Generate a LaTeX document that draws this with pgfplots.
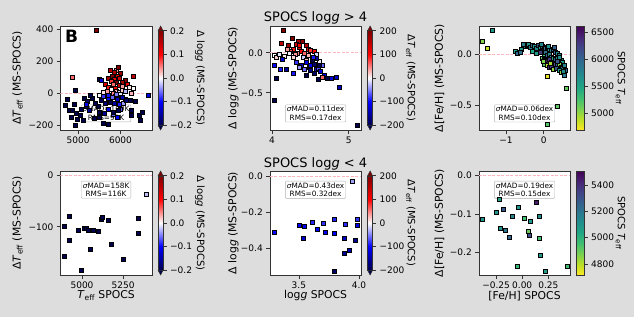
\documentclass[border=0pt]{standalone}
\usepackage{fontspec}
\setmainfont{DejaVu Sans}
\usepackage{pgfplots}
\pgfplotsset{compat=1.18}
\usepackage{pgfplotstable}

\definecolor{figbg}{RGB}{221,221,221}
\definecolor{zeroline}{RGB}{255,180,190}
\definecolor{cbtop}{rgb}{0.5,0,0}
\definecolor{cbbot}{rgb}{0,0,0.3}

\tikzset{statbox/.style={draw=black!30, fill=white, fill opacity=0.75, text opacity=1, align=center, inner sep=1.5pt, rounded corners=1pt, font=\fontsize{7.3}{8.6}\selectfont}}

\pgfplotsset{
  colormap={viridisr}{rgb255=(253,231,37) rgb255=(189,223,38) rgb255=(122,209,81) rgb255=(68,191,112) rgb255=(34,168,132) rgb255=(33,145,140) rgb255=(42,120,142) rgb255=(53,95,141) rgb255=(65,68,135) rgb255=(72,36,117) rgb255=(68,1,84)},
  colormap={seismic}{rgb=(0,0,0.3) rgb=(0,0,1) rgb=(1,1,1) rgb=(1,0,0) rgb=(0.5,0,0)},
  panel/.style={
    scale only axis, width=91.5pt, height=104pt, anchor=south west,
    axis background/.style={fill=white},
    tick align=outside, tick pos=left, major tick length=3.5pt,
    axis line style={black!80, line width=0.6pt},
    tick style={black!80, line width=0.6pt},
    tick label style={font=\fontsize{9}{10}\selectfont},
    label style={font=\fontsize{10.8}{12}\selectfont},
    title style={font=\fontsize{13}{14}\selectfont, at={(axis description cs:0.5,1)}, anchor=base, yshift=-2pt, inner sep=0pt},
    xlabel style={at={(axis description cs:0.5,-0.2)}, anchor=center},
  },
  scat/.style={scatter, only marks, mark=square*, mark size=2.0pt, scatter src=explicit,
     scatter/use mapped color={draw=black, fill=mapped color, line width=0.4pt}},
  zl/.style={zeroline, dash pattern=on 3pt off 1.5pt, line width=0.7pt, forget plot},
  cbbase/.style={
    colorbar style={at={(parent axis.east)}, anchor=west, xshift=-2.24pt, scale only axis,
      axis line style={black!80, line width=0.5pt},
      ytick pos=right, yticklabel pos=right,
      tick align=outside, major tick length=3.5pt, tick style={black!80, line width=0.6pt},
      yticklabel style={font=\fontsize{9}{10}\selectfont},
      ylabel style={font=\fontsize{10}{11}\selectfont, anchor=center, rotate=180}}},
  cbseis/.style={colorbar, colormap name=seismic, cbbase,
    colorbar style={width=5pt, height=94.5pt,
      extra description/.code={
        \filldraw[fill=cbtop, draw=black!80, line width=0.5pt] (axis description cs:0,1) -- (axis description cs:0.5,1.05) -- (axis description cs:1,1) -- cycle;
        \filldraw[fill=cbbot, draw=black!80, line width=0.5pt] (axis description cs:0,0) -- (axis description cs:0.5,-0.05) -- (axis description cs:1,0) -- cycle;
      }}},
  cbvir/.style={colorbar, colormap name=viridisr, cbbase,
    colorbar style={width=7.5pt, height=104pt}},
}

% Panel 1: Teff SPOCS, dTeff, colour dlogg (logg>4)
\pgfplotstableread{
x y c
5415 395 0.2
4866 101 0.06
4937 21 -0.2
6650 -10 -0.12
6295 109 0.15
4684 -74 -0.2
4735 -39 -0.2
4778 -105 -0.2
4859 -108 -0.2
4836 -152 -0.2
4930 -199 -0.2
4953 -124 -0.2
4906 -67 -0.2
5047 -136 -0.2
5070 -99 -0.2
5148 -33 -0.2
5218 -53 -0.18
5321 -31 -0.2
5187 -80 -0.2
5258 -105 -0.16
5117 -168 -0.2
4977 -162 -0.2
5375 -155 -0.2
5749 147 0.15
5906 147 0.05
5944 162 0.2
5984 126 0.18
6101 84 0.2
5860 130 0.16
5800 110 0.2
5920 105 0.12
5700 95 0.18
5850 90 0.1
5980 95 0.14
6050 70 0.17
5780 75 0.08
5900 70 0.2
6150 60 0.1
5650 60 0.13
5820 55 0.06
5960 50 0.15
6050 45 0.04
6200 40 0.01
5720 40 0.09
5880 35 0.11
6295 32 0.0
5780 25 0.0
5900 15 0.03
5960 5 -0.02
6050 20 0.02
5680 15 0.04
5830 0 0.05
6000 -5 -0.01
6120 10 -0.03
5600 5 0.01
6250 0 0.03
5720 -10 -0.04
5870 -20 0.07
5492 90 -0.2
5555 84 -0.12
5600 -20 -0.08
5700 -30 -0.1
5800 -25 -0.06
5920 -40 -0.13
6020 -25 -0.07
6100 -40 -0.15
5750 -55 -0.2
5850 -60 -0.15
5960 -70 -0.09
5650 -65 -0.18
5550 -45 -0.2
6060 -60 -0.04
5480 -80 -0.2
5400 -60 -0.2
5274 -15 -0.2
5180 -68 -0.11
5508 -15 0.0
5703 -15 -0.09
5897 -4 -0.05
6000 -100 -0.07
5700 -100 -0.11
5620 -125 -0.16
5820 -130 -0.06
5920 -150 -0.1
5500 -150 -0.2
5592 -189 -0.2
5710 -194 -0.2
5492 -118 -0.2
5820 -118 -0.2
5937 -105 -0.2
6218 -42 -0.2
6253 -137 -0.2
6258 -105 -0.2
6452 -137 -0.2
6464 -172 -0.2
6522 -118 -0.2
6124 -42 -0.18
6030 -23 -0.15
6358 -49 -0.2
}\tabA

% Panel 2: logg SPOCS, dlogg, colour dTeff (logg>4)
\pgfplotstableread{
x y c
4.14 0.28 200
4.12 0.12 150
4.21 0.09 180
4.26 0.18 200
4.34 0.14 170
4.35 0.07 120
4.39 0.15 190
4.44 0.09 160
4.31 0.11 140
4.28 0.05 90
4.38 0.02 110
4.47 0.05 130
4.50 0.03 80
4.42 0.00 60
4.24 0.02 70
4.33 0.00 50
4.55 0.02 100
4.30 -0.02 40
4.47 -0.03 30
4.20 0.04 40
4.36 0.10 100
4.03 -0.03 0
4.05 -0.06 20
4.09 -0.02 -10
4.16 -0.04 10
4.22 -0.01 -5
4.27 -0.06 15
4.40 -0.05 -20
4.52 -0.06 5
4.58 -0.02 -15
4.45 -0.09 25
4.62 -0.10 -10
4.03 -0.15 -100
4.10 -0.21 -90
4.13 -0.08 -120
4.18 -0.21 -160
4.27 -0.25 -90
4.32 -0.12 -80
4.38 -0.15 -140
4.45 -0.12 -110
4.48 -0.18 -150
4.52 -0.10 -200
4.55 -0.14 -180
4.58 -0.20 -130
4.60 -0.19 -70
4.63 -0.23 -120
4.66 -0.15 -60
4.50 -0.22 -170
4.55 -0.26 -190
4.68 -0.28 -110
4.72 -0.32 -200
4.77 -0.32 -120
4.83 -0.30 -130
4.87 -0.43 -140
4.45 -0.28 -200
4.60 -0.33 -200
4.42 -0.20 -60
4.35 -0.18 -40
4.50 -0.15 -100
4.57 -0.07 -160
4.62 -0.15 -200
4.53 -0.05 -90
4.03 -0.59 -200
4.05 -0.32 -200
5.11 -0.91 -200
4.66 -0.30 60
}\tabB

% Panel 3: [Fe/H] SPOCS, d[Fe/H], colour Teff (logg>4)
\pgfplotstableread{
x y c
-1.356 0.235 5600
-1.631 0.131 5050
-1.497 0.063 4850
-0.759 0.033 5500
-0.714 0.014 6000
0.088 -0.206 4750
0.604 -0.329 5150
0.356 -0.503 5150
0.088 -0.686 5200
-0.50 0.08 5700
-0.45 0.09 5900
-0.40 0.10 5600
-0.35 0.07 5800
-0.30 0.09 6000
-0.25 0.08 5650
-0.20 0.06 5750
-0.15 0.09 6100
-0.10 0.07 5550
-0.05 0.08 5850
0.00 0.07 5700
0.05 0.06 5950
0.10 0.07 6200
0.15 0.05 5600
0.20 0.04 5800
0.25 0.05 5900
0.30 0.02 6050
0.35 0.01 5700
0.40 -0.01 5750
-0.30 0.03 5500
-0.20 0.01 5600
-0.10 0.02 6300
0.00 0.00 5300
0.05 0.02 5900
0.10 -0.01 6000
0.15 0.00 5750
0.20 -0.02 5650
0.25 -0.03 5500
0.30 -0.04 5950
0.35 -0.03 5700
0.40 -0.06 5850
0.45 -0.05 5800
0.50 -0.07 5600
-0.05 -0.03 5200
0.00 -0.04 5100
0.05 -0.05 6400
0.10 -0.06 6500
0.15 -0.04 6300
0.20 -0.07 6600
0.25 -0.08 5900
0.30 -0.09 6200
0.35 -0.10 5950
0.40 -0.09 5050
0.45 -0.12 5700
0.50 -0.13 5800
0.55 -0.10 5750
0.58 -0.15 5900
0.00 -0.09 5200
0.08 -0.10 4900
0.15 -0.12 6450
0.20 -0.11 6300
0.25 -0.14 5000
0.32 -0.13 6100
0.40 -0.15 5500
0.45 -0.17 5000
0.52 -0.16 5700
0.55 -0.20 5800
-0.60 0.05 5600
-0.55 0.10 5800
-0.08 0.10 5750
0.12 0.08 5650
0.28 0.07 6000
-0.02 -0.06 5050
0.18 -0.08 4950
0.36 -0.06 6100
0.42 -0.02 5650
-0.62 0.02 5900
}\tabC

% Panel 4: Teff SPOCS, dTeff, colour dlogg (logg<4)
\pgfplotstableread{
x y c
5391 -36 -0.025
4922 -80 -0.2
4892 -99 -0.2
4920 -126 -0.2
4892 -158 -0.2
4996 -185 -0.2
4978 -106 -0.2
5012 -103 -0.2
5028 -103 -0.2
5040 -106 -0.2
5066 -107 -0.2
5096 -109 -0.2
5052 -143 -0.2
5116 -85 -0.2
5122 -81 -0.2
5162 -87 -0.2
5176 -134 -0.2
5248 -164 -0.2
5344 -83 -0.2
5340 -113 -0.2
}\tabD

% Panel 5: logg SPOCS, dlogg, colour dTeff (logg<4)
\pgfplotstableread{
x y c
3.942 -0.025 -36
3.292 -0.310 -99
3.502 -0.276 -103
3.542 -0.278 -106
3.533 -0.344 -126
3.613 -0.254 -85
3.655 -0.297 -107
3.705 -0.263 -81
3.717 -0.315 -109
3.797 -0.237 -87
3.797 -0.319 -103
3.797 -0.530 -185
3.886 -0.269 -83
3.878 -0.344 -134
3.878 -0.430 -158
3.919 -0.414 -143
3.969 -0.357 -164
3.986 -0.241 -80
3.986 -0.273 -113
}\tabE

% Panel 6: [Fe/H] SPOCS, d[Fe/H], colour Teff (logg<4)
\pgfplotstableread{
x y c
-0.217 -0.062 5050
0.133 -0.069 5450
-0.250 -0.095 5100
-0.178 -0.088 5300
-0.039 -0.083 5100
-0.379 -0.114 5100
-0.100 -0.105 5150
0.022 -0.111 4950
0.081 -0.120 5100
0.162 -0.106 5120
-0.211 -0.137 5100
-0.165 -0.143 5200
0.055 -0.144 4900
0.065 -0.155 5330
-0.126 -0.161 5250
0.162 -0.162 4950
0.172 -0.208 5080
-0.049 -0.234 4970
0.224 -0.248 5080
0.431 -0.236 4960
}\tabF

\begin{document}
\begin{tikzpicture}
\path[fill=figbg, use as bounding box] (0,0) rectangle (634pt,317pt);

% ---------- top row ----------
\begin{axis}[panel, at={(60.3pt,187pt)},
  xmin=4578, xmax=6740, ymin=-231, ymax=423,
  xtick={5000,6000}, xticklabels={5000,6000},
  ytick={-200,0,200,400}, yticklabels={−200,0,200,400},
  ylabel={Δ\textit{T}\textsubscript{eff} (MS-SPOCS)},
  ylabel style={at={(axis description cs:-0.468,0.5)}, anchor=center},
  point meta min=-0.2, point meta max=0.2, cbseis,
  colorbar style={ytick={-0.2,-0.1,0,0.1,0.2}, yticklabels={−0.2,−0.1,0.0,0.1,0.2},
    ylabel={Δ log\textit{g} (MS-SPOCS)}, ylabel style={at={(axis description cs:8.38,0.5)}}}]
\addplot[scat] table[x=x, y=y, meta=c] {\tabA};
\addplot[zl] coordinates {(4578,0) (6740,0)};
\node[statbox] at (axis description cs:0.5,0.16) {\textit{σ}MAD=100K\\RMS=92K};
\node[anchor=north west, inner sep=0pt, font=\bfseries\fontsize{17}{17}\selectfont] at (axis description cs:0.05,0.965) {B};
\end{axis}

\begin{axis}[panel, at={(269.8pt,187pt)},
  xmin=3.97, xmax=5.164, ymin=-0.966, ymax=0.335,
  xtick={4,5}, xticklabels={4,5},
  ytick={-0.5,0}, yticklabels={−0.5,0.0},
  title={SPOCS log\textit{g} > 4},
  ylabel={Δ log\textit{g} (MS-SPOCS)},
  ylabel style={at={(axis description cs:-0.397,0.5)}, anchor=center},
  point meta min=-200, point meta max=200, cbseis,
  colorbar style={ytick={-200,-100,0,100,200}, yticklabels={−200,−100,0,100,200},
    ylabel={Δ\textit{T}\textsubscript{eff} (MS-SPOCS)}, ylabel style={at={(axis description cs:8.62,0.5)}}}]
\addplot[scat] table[x=x, y=y, meta=c] {\tabB};
\addplot[zl] coordinates {(3.97,0) (5.164,0)};
\node[statbox] at (axis description cs:0.5,0.16) {\textit{σ}MAD=0.11dex\\RMS=0.17dex};
\end{axis}

\begin{axis}[panel, at={(478.8pt,187pt)},
  xmin=-1.722, xmax=0.703, ymin=-0.738, ymax=0.281,
  xtick={-1,0}, xticklabels={−1,0},
  ytick={-0.5,0}, yticklabels={−0.5,0.0},
  ylabel={Δ[Fe/H] (MS-SPOCS)},
  ylabel style={at={(axis description cs:-0.43,0.5)}, anchor=center},
  point meta min=4690, point meta max=6620, cbvir,
  colorbar style={ytick={5000,5500,6000,6500}, yticklabels={5000,5500,6000,6500},
    ylabel={SPOCS \textit{T}\textsubscript{eff}}, ylabel style={at={(axis description cs:5.85,0.5)}}}]
\addplot[scat] table[x=x, y=y, meta=c] {\tabC};
\addplot[zl] coordinates {(-1.722,0) (0.703,0)};
\node[statbox] at (axis description cs:0.5,0.16) {\textit{σ}MAD=0.06dex\\RMS=0.10dex};
\end{axis}

% ---------- bottom row ----------
\begin{axis}[panel, at={(60.3pt,42pt)},
  xmin=4868, xmax=5424, ymin=-194.5, ymax=9.2,
  xtick={5000,5250}, xticklabels={5000,5250},
  ytick={-100,0}, yticklabels={−100,0},
  xlabel={\textit{T}\textsubscript{eff} SPOCS},
  ylabel={Δ\textit{T}\textsubscript{eff} (MS-SPOCS)},
  ylabel style={at={(axis description cs:-0.468,0.5)}, anchor=center},
  point meta min=-0.2, point meta max=0.2, cbseis,
  colorbar style={ytick={-0.2,-0.1,0,0.1,0.2}, yticklabels={−0.2,−0.1,0.0,0.1,0.2},
    ylabel={Δ log\textit{g} (MS-SPOCS)}, ylabel style={at={(axis description cs:8.38,0.5)}}}]
\addplot[scat] table[x=x, y=y, meta=c] {\tabD};
\addplot[zl] coordinates {(4868,0) (5424,0)};
\node[statbox] at (axis description cs:0.5,0.82) {\textit{σ}MAD=158K\\RMS=116K};
\end{axis}

\begin{axis}[panel, at={(269.8pt,42pt)},
  xmin=3.258, xmax=4.019, ymin=-0.552, ymax=0.030,
  xtick={3.5,4.0}, xticklabels={3.5,4.0},
  ytick={-0.4,-0.2,0}, yticklabels={−0.4,−0.2,0.0},
  title={SPOCS log\textit{g} < 4},
  xlabel={log\textit{g} SPOCS},
  ylabel={Δ log\textit{g} (MS-SPOCS)},
  ylabel style={at={(axis description cs:-0.397,0.5)}, anchor=center},
  point meta min=-200, point meta max=200, cbseis,
  colorbar style={ytick={-200,-100,0,100,200}, yticklabels={−200,−100,0,100,200},
    ylabel={Δ\textit{T}\textsubscript{eff} (MS-SPOCS)}, ylabel style={at={(axis description cs:8.62,0.5)}}}]
\addplot[scat] table[x=x, y=y, meta=c] {\tabE};
\addplot[zl] coordinates {(3.258,0) (4.019,0)};
\node[statbox] at (axis description cs:0.5,0.82) {\textit{σ}MAD=0.43dex\\RMS=0.32dex};
\end{axis}

\begin{axis}[panel, at={(478.8pt,42pt)},
  xmin=-0.415, xmax=0.46, ymin=-0.258, ymax=0.011,
  xtick={-0.25,0,0.25}, xticklabels={−0.25,0.00,0.25},
  ytick={-0.2,-0.1,0}, yticklabels={−0.2,−0.1,0.0},
  xlabel={[Fe/H] SPOCS},
  ylabel={Δ[Fe/H] (MS-SPOCS)},
  ylabel style={at={(axis description cs:-0.43,0.5)}, anchor=center},
  point meta min=4716, point meta max=5507, cbvir,
  colorbar style={ytick={4800,5000,5200,5400}, yticklabels={4800,5000,5200,5400},
    ylabel={SPOCS \textit{T}\textsubscript{eff}}, ylabel style={at={(axis description cs:5.85,0.5)}}}]
\addplot[scat] table[x=x, y=y, meta=c] {\tabF};
\addplot[zl] coordinates {(-0.415,0) (0.46,0)};
\node[statbox] at (axis description cs:0.5,0.82) {\textit{σ}MAD=0.19dex\\RMS=0.15dex};
\end{axis}
\end{tikzpicture}
\end{document}
